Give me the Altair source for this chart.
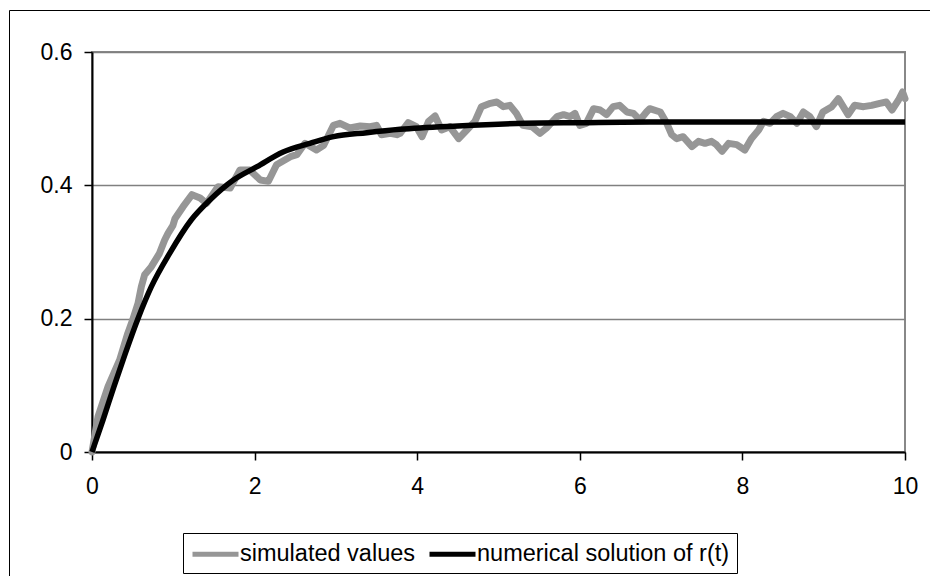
import altair as alt
import pandas as pd

# simulated values
t_sim = [0.0, 0.074, 0.197, 0.34, 0.44, 0.50, 0.566, 0.607, 0.648, 0.73, 0.83, 0.894, 0.935, 0.996,
         1.02, 1.12, 1.23, 1.33, 1.41, 1.55, 1.70, 1.82, 1.94, 2.07, 2.17, 2.27, 2.44, 2.52, 2.62,
         2.76, 2.85, 2.97, 3.05, 3.17, 3.30, 3.42, 3.50, 3.56, 3.67, 3.75, 3.79, 3.89, 3.99, 4.06,
         4.14, 4.22, 4.30, 4.40, 4.51, 4.61, 4.71, 4.79, 4.90, 4.98, 5.06, 5.14, 5.22, 5.30, 5.41,
         5.51, 5.59, 5.72, 5.80, 5.88, 5.94, 6.00, 6.08, 6.17, 6.25, 6.33, 6.41, 6.49, 6.58, 6.66,
         6.74, 6.82, 6.86, 6.99, 7.07, 7.13, 7.19, 7.27, 7.38, 7.46, 7.54, 7.62, 7.68, 7.75, 7.83,
         7.93, 8.03, 8.11, 8.20, 8.26, 8.34, 8.42, 8.50, 8.59, 8.67, 8.75, 8.83, 8.91, 8.99, 9.10,
         9.18, 9.24, 9.30, 9.38, 9.49, 9.59, 9.69, 9.77, 9.84, 9.92, 9.97, 10.0]
v_sim = [0.0, 0.053, 0.098, 0.138, 0.178, 0.198, 0.223, 0.248, 0.266, 0.278, 0.298, 0.318, 0.328, 0.340,
         0.350, 0.368, 0.386, 0.381, 0.373, 0.398, 0.396, 0.423, 0.423, 0.408, 0.406, 0.431, 0.443, 0.446, 0.463,
         0.453, 0.460, 0.490, 0.493, 0.486, 0.489, 0.488, 0.490, 0.476, 0.478, 0.476, 0.478, 0.494, 0.488, 0.473,
         0.496, 0.504, 0.483, 0.488, 0.470, 0.483, 0.496, 0.518, 0.523, 0.525, 0.518, 0.520, 0.508, 0.490, 0.488,
         0.478, 0.486, 0.503, 0.506, 0.503, 0.508, 0.490, 0.493, 0.515, 0.513, 0.506, 0.518, 0.520, 0.510, 0.508,
         0.498, 0.510, 0.515, 0.510, 0.493, 0.476, 0.470, 0.473, 0.458, 0.466, 0.463, 0.466, 0.461, 0.451, 0.463,
         0.461, 0.453, 0.470, 0.483, 0.496, 0.493, 0.503, 0.508, 0.503, 0.493, 0.510, 0.503, 0.488, 0.510, 0.518,
         0.530, 0.518, 0.506, 0.520, 0.518, 0.520, 0.523, 0.525, 0.513, 0.528, 0.540, 0.530]

# numerical solution of r(t)
t_num = [0.0, 0.135, 0.27, 0.41, 0.565, 0.73, 0.955, 1.22, 1.45, 1.74, 2.03, 2.35, 2.68, 2.97,
         3.38, 3.79, 4.5, 5.33, 6.0, 6.86, 8.0, 9.0, 10.0]
v_num = [0.0, 0.048, 0.098, 0.148, 0.200, 0.248, 0.298, 0.348, 0.378, 0.408, 0.428, 0.450, 0.463, 0.473,
         0.479, 0.484, 0.489, 0.493, 0.494, 0.495, 0.495, 0.495, 0.495]

series_names = ["simulated values", "numerical solution of r(t)"]
series_colors = ["#969696", "#000000"]
x_ticks = [0, 2, 4, 6, 8, 10]
y_ticks = [0, 0.2, 0.4, 0.6]

sim_df = pd.DataFrame({"t": t_sim, "r": v_sim, "series": series_names[0]})
num_df = pd.DataFrame({"t": t_num, "r": v_num, "series": series_names[1]})

FONT = "Liberation Sans"

x_enc = alt.X("t:Q", scale=alt.Scale(domain=[0, 10], nice=False),
              axis=alt.Axis(values=x_ticks, title=None, grid=False, format="d", labelFlush=False))
y_enc = alt.Y("r:Q", scale=alt.Scale(domain=[0, 0.6], nice=False),
              axis=alt.Axis(values=y_ticks, title=None, grid=True, format=".1~f", labelFlush=False))
color_enc = alt.Color("series:N",
                      scale=alt.Scale(domain=series_names, range=series_colors),
                      sort=series_names,
                      legend=alt.Legend(title=None, orient="none", legendX=91, legendY=481,
                                        direction="horizontal", symbolType="M-1,0H3",
                                        symbolSize=529, symbolStrokeWidth=5,
                                        labelFontSize=23.5, labelFont=FONT, labelColor="black",
                                        labelLimit=600, labelOffset=22, columnPadding=3, padding=7,
                                        strokeColor="black", fillColor="white"))

sim_layer = alt.Chart(sim_df).mark_line(strokeWidth=7, strokeJoin="round", strokeCap="round").encode(
    x=x_enc, y=y_enc, color=color_enc)
num_layer = alt.Chart(num_df).mark_line(strokeWidth=5.5, interpolate="monotone").encode(
    x=x_enc, y=y_enc, color=color_enc)

border = alt.Chart(pd.DataFrame({"a": [0]})).mark_rect(filled=False, stroke="black", strokeWidth=1).encode(
    x=alt.value(-82.5), x2=alt.value(860), y=alt.value(-41.5), y2=alt.value(560))

chart = alt.layer(border, sim_layer, num_layer).properties(
    width=813, height=400,
    padding={"left": 92, "top": 52, "right": 25, "bottom": 124},
    autosize=alt.AutoSizeParams(type="none"),
    background="white",
).configure_view(
    stroke="#888888", strokeWidth=2
).configure_axis(
    labelFont=FONT, labelFontSize=23, labelColor="black",
    domainColor="black", domainWidth=2, tickColor="black", tickWidth=1.5, tickSize=8,
    gridColor="#808080", gridWidth=1.5
).configure_axisX(labelPadding=15).configure_axisY(labelPadding=12)

chart.save("out.html", embed_options={"renderer": "svg", "actions": False})
